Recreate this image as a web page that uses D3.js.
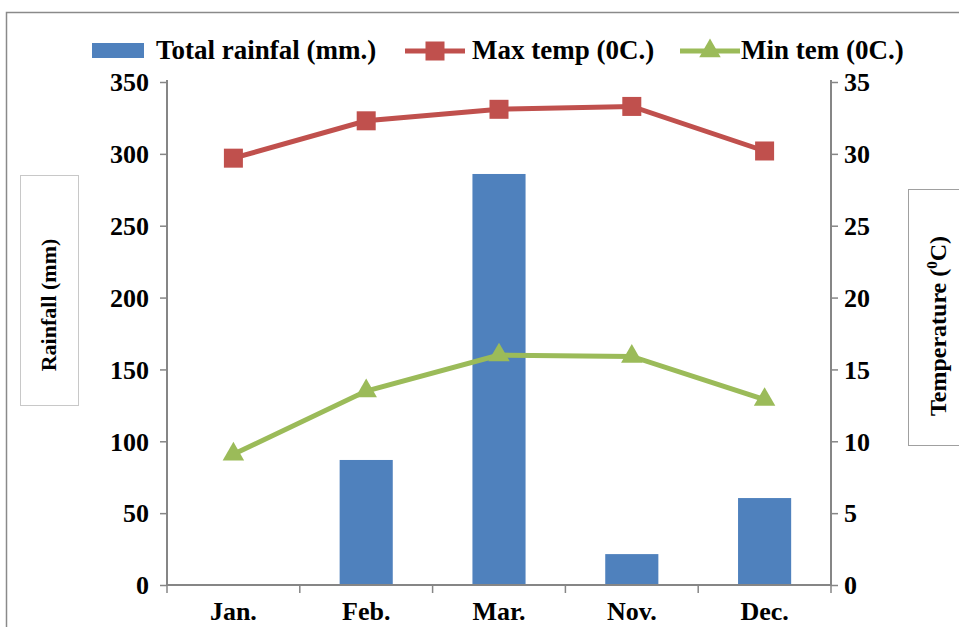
<!DOCTYPE html>
<html><head><meta charset="utf-8">
<script src="https://cdn.jsdelivr.net/npm/d3@7"></script>
<style>body{margin:0;background:#fff}svg{display:block}</style>
</head><body><svg id="c" width="959" height="627"></svg>
<script>
const categories = ["Jan.", "Feb.", "Mar.", "Nov.", "Dec."];
const rainfall = [0, 87, 286, 21.5, 60.5];
const maxTemp = [29.7, 32.3, 33.1, 33.3, 30.2];
const minTemp = [9.1, 13.5, 16.0, 15.9, 12.9];
const rainTicks = [0, 50, 100, 150, 200, 250, 300, 350];
const tempTicks = [0, 5, 10, 15, 20, 25, 30, 35];

const FONT = "Liberation Serif";
const svg = d3.select("#c").attr("font-family", FONT).attr("font-weight", "bold");
const L = 167, R = 831, T = 82, B = 585;
const axisCol = "#868686";

// outer border
svg.append("path").attr("d", "M6.5,640V12.5H970").attr("fill","none").attr("stroke","#8a8a8a").attr("stroke-width",1.5);

const x = d3.scaleBand().domain(categories).range([L, R]).paddingInner(0.6).paddingOuter(0.3);
const xb = d3.scaleBand().domain(categories).range([L, R]);
const yL = d3.scaleLinear().domain([0, 350]).range([B, T]);
const yR = d3.scaleLinear().domain([0, 35]).range([B, T]);

// bars
svg.selectAll("rect.bar").data(rainfall).enter().append("rect")
  .attr("x", (d,i) => x(categories[i])).attr("width", x.bandwidth())
  .attr("y", d => yL(d)).attr("height", d => B - yL(d)).attr("fill", "#4F81BD");

// axes
const gl = svg.append("g").attr("transform", `translate(${L},0)`)
  .call(d3.axisLeft(yL).tickValues(rainTicks).tickSize(7).tickPadding(11));
const gr = svg.append("g").attr("transform", `translate(${R},0)`)
  .call(d3.axisRight(yR).tickValues(tempTicks).tickSize(7).tickPadding(6));
const xTickPos = categories.map(c => xb(c)).concat([R]);
const gb = svg.append("g").attr("transform", `translate(0,${B})`);
gb.append("line").attr("x1", L).attr("x2", R).attr("stroke", axisCol).attr("stroke-width", 2);
gb.selectAll("line.t").data(xTickPos).enter().append("line")
  .attr("x1", d => d).attr("x2", d => d).attr("y1", 0).attr("y2", 8).attr("stroke", axisCol).attr("stroke-width", 1.5);
gb.selectAll("text").data(categories).enter().append("text")
  .attr("x", d => xb(d) + xb.bandwidth()/2).attr("y", 35).attr("text-anchor","middle")
  .attr("font-size", 26).attr("font-family", FONT).attr("font-weight","bold").text(d => d);

[gl, gr].forEach(g => {
  g.attr("font-family", FONT).attr("font-size", 26).attr("font-weight","bold");
  g.select(".domain").attr("stroke", axisCol).attr("stroke-width", 2);
  g.selectAll(".tick line").attr("stroke", axisCol).attr("stroke-width", 1.5);
  g.selectAll(".tick text").attr("fill","#000").attr("dy", "0.34em");
});
gl.select(".domain").attr("d", `M0,${B}V${T-2}`);
gr.select(".domain").attr("d", `M0,${B}V${T-2}`);

// lines
const cx = c => xb(c) + xb.bandwidth()/2;
const lineGen = s => d3.line().x((d,i) => cx(categories[i])).y(d => yR(d))(s);
svg.append("path").attr("d", lineGen(maxTemp)).attr("fill","none").attr("stroke","#C0504D").attr("stroke-width",5);
svg.append("path").attr("d", lineGen(minTemp)).attr("fill","none").attr("stroke","#9BBB59").attr("stroke-width",5);
svg.selectAll("rect.mk").data(maxTemp).enter().append("rect")
  .attr("x", (d,i) => cx(categories[i]) - 9.5).attr("y", d => yR(d) - 9.5)
  .attr("width", 19).attr("height", 19).attr("fill", "#C0504D");
const tri = d3.symbol().type(d3.symbolTriangle).size(200);
svg.selectAll("path.tr").data(minTemp).enter().append("path")
  .attr("d", tri).attr("transform", (d,i) => `translate(${cx(categories[i])},${yR(d)})`).attr("fill", "#9BBB59");

// axis title boxes
svg.append("rect").attr("x", 20.5).attr("y", 175.5).attr("width", 58).attr("height", 230).attr("fill","none").attr("stroke","#c8c8c8");
svg.append("text").attr("transform", "translate(56,305) rotate(-90)").attr("text-anchor","middle").attr("font-size", 22).text("Rainfall (mm)");
svg.append("rect").attr("x", 908.5).attr("y", 189.5).attr("width", 70).attr("height", 256).attr("fill","none").attr("stroke","#a0a0a0");
const tt = svg.append("text").attr("transform", "translate(946,326) rotate(-90)").attr("text-anchor","middle").attr("font-size", 24);
tt.append("tspan").text("Temperature (");
tt.append("tspan").attr("font-size", 15).attr("dy", -9).text("0");
tt.append("tspan").attr("dy", 9).text("C)");

// legend
const lg = svg.append("g");
lg.append("rect").attr("x", 92).attr("y", 43).attr("width", 52).attr("height", 15).attr("fill", "#4F81BD");
lg.append("text").attr("x", 156).attr("y", 59).attr("font-size", 27).text("Total rainfal (mm.)");
lg.append("line").attr("x1", 405).attr("x2", 465).attr("y1", 51).attr("y2", 51).attr("stroke","#C0504D").attr("stroke-width",5);
lg.append("rect").attr("x", 425.5).attr("y", 41.5).attr("width", 19).attr("height", 19).attr("fill","#C0504D");
lg.append("text").attr("x", 472).attr("y", 59).attr("font-size", 27).text("Max temp (0C.)");
lg.append("line").attr("x1", 680).attr("x2", 740).attr("y1", 51).attr("y2", 51).attr("stroke","#9BBB59").attr("stroke-width",5);
lg.append("path").attr("d", tri).attr("transform", "translate(710,51)").attr("fill","#9BBB59");
lg.append("text").attr("x", 741).attr("y", 59).attr("font-size", 27).text("Min tem (0C.)");
</script></body></html>
